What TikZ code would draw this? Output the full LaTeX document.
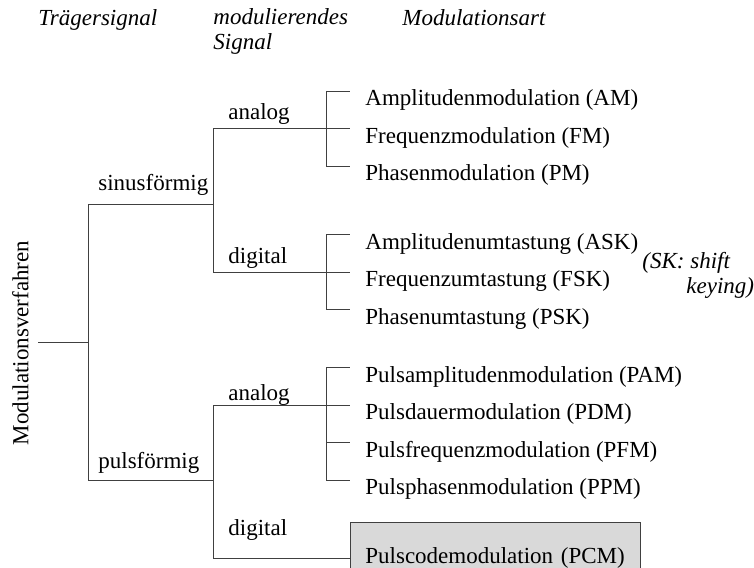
\documentclass[tikz,border=0pt]{standalone}
\usepackage{fontspec}
\setmainfont{Liberation Serif}
\tikzset{
  txt/.style={inner sep=0pt, anchor=base west, font=\fontsize{23}{25}\selectfont},
  hdr/.style={txt, font=\fontsize{23}{25}\selectfont\itshape},
  leaf/.style={inner sep=0pt, anchor=north west, text height=14.5pt, text depth=5pt, font=\fontsize{23}{25}\selectfont},
  pcmbox/.style={leaf, draw, fill=black!15, inner xsep=15pt, inner ysep=26.5pt, text width=260pt, align=left}
}
\begin{document}
\begin{tikzpicture}[x=1pt, y=-1pt, line width=0.8pt, draw=black!75]
\useasboundingbox (0,0) rectangle (754,567);
% Kopfzeile
\node[hdr] (htr) at (38,26) {Trägersignal};
\node[hdr] (hmod) at (213,25) {modulierendes};
\node[hdr] (hsig) at (213,50) {Signal};
\node[hdr] (hart) at (402,26) {Modulationsart};
% Wurzel
\node[inner sep=0pt, rotate=90, font=\fontsize{23}{25}\selectfont] (mv) at (20.5,343) {Modulationsverfahren};
\coordinate (r0) at (38,342);
\coordinate (r1) at (88,342);
\coordinate (sin) at (88,204);
\coordinate (pul) at (88,480);
\coordinate (sin2) at (213,204);
\coordinate (pul2) at (213,480);
% Modulationsarten
\node[leaf] (am)  at (365,91)    {Amplitudenmodulation (AM)};
\node[leaf] (fm)  at (365,128.5) {Frequenzmodulation (FM)};
\node[leaf] (pm)  at (365,166)   {Phasenmodulation (PM)};
\node[leaf] (ask) at (365,234.5) {Amplitudenumtastung (ASK)};
\node[leaf] (fsk) at (365,272)   {Frequenzumtastung (FSK)};
\node[leaf] (psk) at (365,309.5) {Phasenumtastung (PSK)};
\node[leaf] (pam) at (365,367.5) {Pulsamplitudenmodulation (PAM)};
\node[leaf] (pdm) at (365,405)   {Pulsdauermodulation (PDM)};
\node[leaf] (pfm) at (365,442.5) {Pulsfrequenzmodulation (PFM)};
\node[leaf] (ppm) at (365,480)   {Pulsphasenmodulation (PPM)};
\node[pcmbox] (pcm) at (350,522) {\mbox{Pulscodemodulation (PCM)}};
\node[hdr] (sk1) at (642,268) {(SK: shift};
\node[hdr] (sk2) at (686,293) {keying)};
% Beschriftung der Zweige
\node[txt] (lsin) at (98,190) {sinusförmig};
\node[txt] (lpul) at (98,468) {pulsförmig};
\node[txt] (lsa) at (228,120) {analog};
\node[txt] (lsd) at (228,263) {digital};
\node[txt] (lpa) at (228,400) {analog};
\node[txt] (lpd) at (228,535) {digital};
% Baum
\draw (r0) -- (r1);
\draw (sin) -- (pul);
\draw (sin) -- (sin2);
\draw (pul) -- (pul2);
\draw (sin2 |- fm.north) -- (sin2 |- fsk.north);
\draw (pul2 |- pdm.north) -- (pul2 |- pcm.west);
\draw (sin2 |- fm.north) -- ([xshift=-39]fm.north west);
\draw (sin2 |- fsk.north) -- ([xshift=-39]fsk.north west);
\draw (pul2 |- pdm.north) -- ([xshift=-39]pdm.north west);
\draw (pul2 |- pcm.west) -- (pcm.west);
\foreach \n in {am,fm,pm,ask,fsk,psk,pam,pdm,pfm,ppm}
  \draw (\n.north west) ++(-39,0) -- ++(24,0);
\draw ([xshift=-39]am.north west) -- ([xshift=-39]pm.north west);
\draw ([xshift=-39]ask.north west) -- ([xshift=-39]psk.north west);
\draw ([xshift=-39]pam.north west) -- ([xshift=-39]ppm.north west);
\end{tikzpicture}
\end{document}
